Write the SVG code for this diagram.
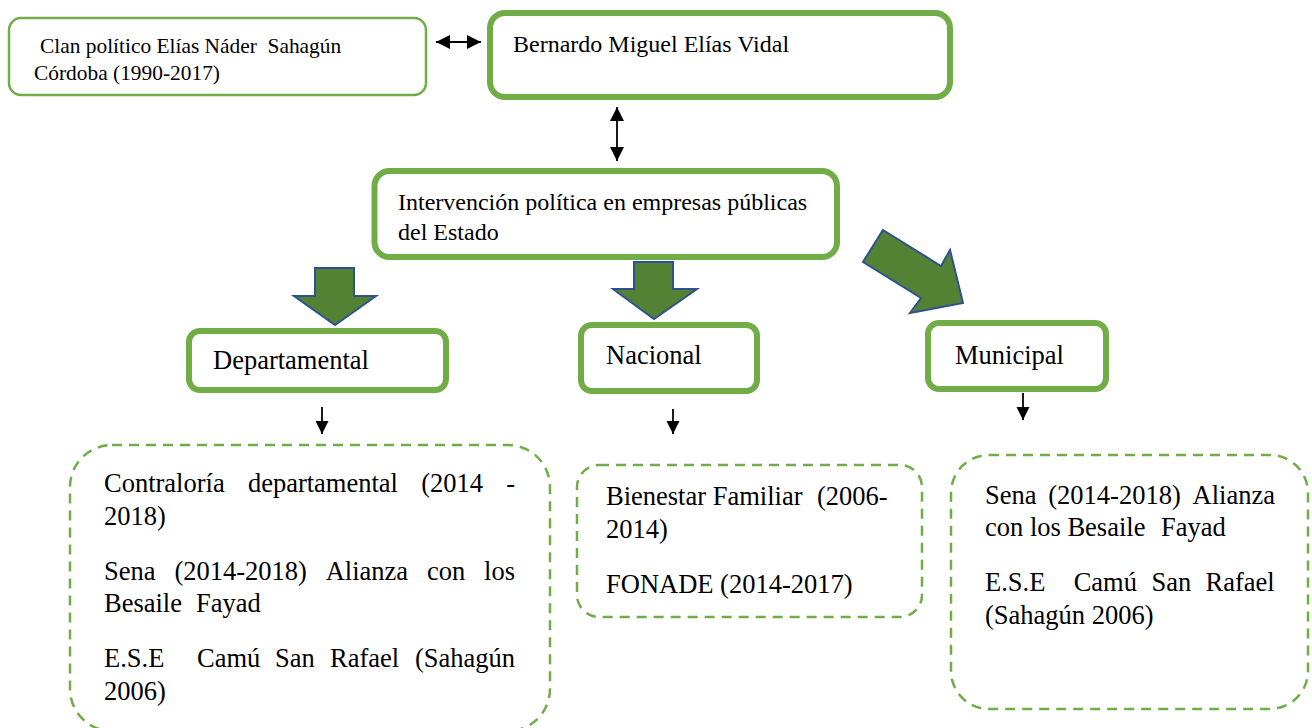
<svg xmlns="http://www.w3.org/2000/svg" width="1312" height="728" viewBox="0 0 1312 728">
<style>
  .box{fill:#fff;stroke:#70AD47;stroke-width:6}
  .thin{fill:#fff;stroke:#70AD47;stroke-width:2.5}
  .dash{fill:#fff;stroke:#70AD47;stroke-width:2.5;stroke-dasharray:10 7}
  .t{font-family:"Liberation Serif","Times New Roman",serif;fill:#000}
  .s21{font-size:21.4px}
  .s24{font-size:24px}
  .s26{font-size:26.5px}
  .fat{fill:#548235;stroke:#2F528F;stroke-width:2;stroke-linejoin:miter}
  .ln{stroke:#000;stroke-width:1.8;fill:none}
</style>
<defs>
  <marker id="ah" viewBox="0 0 10 10" refX="10" refY="5" markerUnits="userSpaceOnUse" markerWidth="15" markerHeight="14" orient="auto-start-reverse">
    <path d="M0,0 L10,5 L0,10 z" fill="#000"/>
  </marker>
  <marker id="ahs" viewBox="0 0 10 10" refX="10" refY="5" markerUnits="userSpaceOnUse" markerWidth="13" markerHeight="16" orient="auto">
    <path d="M0,0 L10,5 L0,10 z" fill="#000"/>
  </marker>
</defs>
<rect width="1312" height="728" fill="#fff"/>

<g id="connectors">
  <line class="ln" x1="436" y1="42" x2="481" y2="42" marker-start="url(#ah)" marker-end="url(#ah)"/>
  <line class="ln" x1="617" y1="107" x2="617" y2="161" marker-start="url(#ah)" marker-end="url(#ah)"/>
  <polygon class="fat" points="315,268 354,268 354,296 376,296 335,325 294,296 315,296"/>
  <polygon class="fat" points="634,262 673,262 673,289 697,289 654,319 613,289 634,289"/>
  <polygon class="fat" points="883,230 941,266 950,250 963,303 910,313 921,298 863,262"/>
  <line class="ln" x1="322" y1="407" x2="322" y2="434" marker-end="url(#ahs)"/>
  <line class="ln" x1="673" y1="409" x2="673" y2="434" marker-end="url(#ahs)"/>
  <line class="ln" x1="1023" y1="393" x2="1023" y2="420" marker-end="url(#ahs)"/>
</g>

<g id="clan">
  <rect class="thin" x="9" y="18" width="417" height="77" rx="12"/>
  <text class="t s21" x="40" y="53" xml:space="preserve">Clan político Elías Náder  Sahagún</text>
  <text class="t s21" x="34" y="80">Córdoba (1990-2017)</text>
</g>

<g id="bernardo">
  <rect class="box" x="490" y="13" width="460" height="84" rx="15"/>
  <text class="t s24" x="513" y="52">Bernardo Miguel Elías Vidal</text>
</g>

<g id="intervencion">
  <rect class="box" x="374.5" y="171" width="462.5" height="86" rx="15"/>
  <text class="t s24" x="398" y="210">Intervención política en empresas públicas</text>
  <text class="t s24" x="398" y="240">del Estado</text>
</g>

<g id="departamental">
  <rect class="box" x="189" y="331" width="257" height="59" rx="11"/>
  <text class="t s26" x="213" y="369">Departamental</text>
</g>

<g id="nacional">
  <rect class="box" x="581" y="325" width="176" height="66" rx="11"/>
  <text class="t s26" x="606" y="364">Nacional</text>
</g>

<g id="municipal">
  <rect class="box" x="928" y="323" width="178" height="66" rx="11"/>
  <text class="t s26" x="955" y="364">Municipal</text>
</g>

<g id="dep-list">
  <rect class="dash" x="70" y="445" width="480" height="286" rx="42"/>
  <text class="t s26" y="492"><tspan x="104">Contraloría</tspan><tspan x="247.9">departamental</tspan><tspan x="421.2">(2014</tspan><tspan x="506.2">-</tspan></text>
  <text class="t s26" x="104" y="525">2018)</text>
  <text class="t s26" y="580"><tspan x="104">Sena</tspan><tspan x="174.4">(2014-2018)</tspan><tspan x="325.7">Alianza</tspan><tspan x="427">con</tspan><tspan x="484.1">los</tspan></text>
  <text class="t s26" y="612"><tspan x="104">Besaile</tspan><tspan x="196">Fayad</tspan></text>
  <text class="t s26" y="667"><tspan x="104">E.S.E</tspan><tspan x="197">Camú</tspan><tspan x="275">San</tspan><tspan x="330">Rafael</tspan><tspan x="415">(Sahagún</tspan></text>
  <text class="t s26" x="104" y="700">2006)</text>
</g>

<g id="nac-list">
  <rect class="dash" x="577" y="465" width="345" height="152" rx="22"/>
  <text class="t s26" y="505"><tspan x="606">Bienestar Familiar</tspan><tspan x="817">(2006-</tspan></text>
  <text class="t s26" x="606" y="538">2014)</text>
  <text class="t s26" x="606" y="593">FONADE (2014-2017)</text>
</g>

<g id="mun-list">
  <rect class="dash" x="951" y="455" width="357" height="254" rx="38"/>
  <text class="t s26" y="504"><tspan x="985">Sena</tspan><tspan x="1048.3">(2014-2018)</tspan><tspan x="1192.6">Alianza</tspan></text>
  <text class="t s26" y="536"><tspan x="985">con los Besaile</tspan><tspan x="1161">Fayad</tspan></text>
  <text class="t s26" y="591"><tspan x="985">E.S.E</tspan><tspan x="1073.7">Camú</tspan><tspan x="1151.4">San</tspan><tspan x="1205.5">Rafael</tspan></text>
  <text class="t s26" x="985" y="624">(Sahagún 2006)</text>
</g>
</svg>
